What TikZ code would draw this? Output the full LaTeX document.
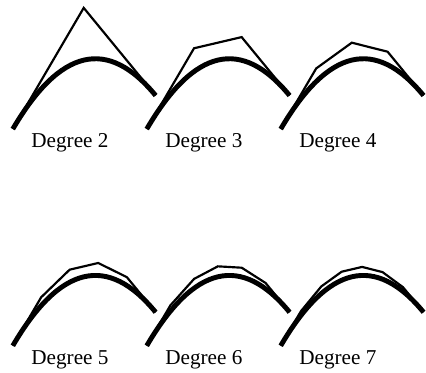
\documentclass[tikz,border=0pt]{standalone}
\usepackage{fontspec}
\setmainfont{Liberation Serif}
\tikzset{
  bezcurve/.style={line width=5pt},
  ctrlpoly/.style={line width=2.2pt, line join=miter},
  deglabel/.style={font=\fontsize{21.5}{25}\selectfont, anchor=base},
}
\newcommand{\thickarc}{\draw[bezcurve] (0,0) .. controls (48,82) and (96.33,93.33) .. (145,34);}

\begin{document}
\begin{tikzpicture}[x=1pt,y=1pt]
    \fill[white] (0,0) rectangle (426,376);

    % Degree 2
    \begin{scope}[shift={(13,245)}]
        \draw[ctrlpoly] (0,0) -- (72,123) -- (145,34);
        \thickarc
        \node[deglabel] (deg2) at (58,-19) {Degree 2};
    \end{scope}

    % Degree 3
    \begin{scope}[shift={(149,245)}]
        \draw[ctrlpoly] (0,0) -- (48,82) -- (96.33,93.33) -- (145,34);
        \thickarc
        \node[deglabel] (deg3) at (58,-19) {Degree 3};
    \end{scope}

    % Degree 4
    \begin{scope}[shift={(285,245)}]
        \draw[ctrlpoly] (0,0) -- (36,61.5) -- (72.17,87.67) -- (108.5,78.5) -- (145,34);
        \thickarc
        \node[deglabel] (deg4) at (58,-19) {Degree 4};
    \end{scope}

    % Degree 5
    \begin{scope}[shift={(13,25)}]
        \draw[ctrlpoly] (0,0) -- (28.8,49.2) -- (57.7,77.2) -- (86.7,84) -- (115.8,69.6) -- (145,34);
        \thickarc
        \node[deglabel] (deg5) at (58,-19) {Degree 5};
    \end{scope}

    % Degree 6
    \begin{scope}[shift={(149,25)}]
        \draw[ctrlpoly] (0,0) -- (24,41) -- (48.07,67.87) -- (72.2,80.6) -- (96.4,79.2) -- (120.67,63.67) -- (145,34);
        \thickarc
        \node[deglabel] (deg6) at (58,-19) {Degree 6};
    \end{scope}

    % Degree 7
    \begin{scope}[shift={(285,25)}]
        \draw[ctrlpoly] (0,0) -- (20.57,35.14) -- (41.19,60.19) -- (61.86,75.14) -- (82.57,80) -- (103.33,74.76) -- (124.14,59.43) -- (145,34);
        \thickarc
        \node[deglabel] (deg7) at (58,-19) {Degree 7};
    \end{scope}
\end{tikzpicture}
\end{document}
